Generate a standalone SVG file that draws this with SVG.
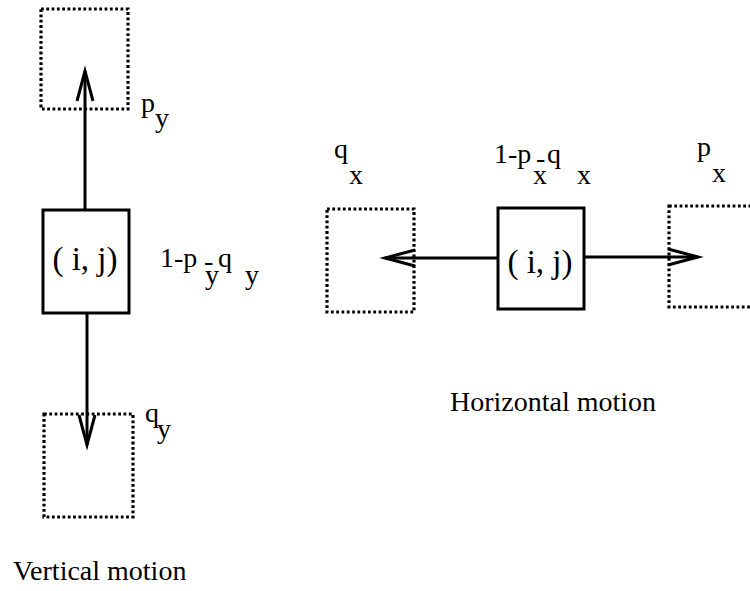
<svg xmlns="http://www.w3.org/2000/svg" width="750" height="591" viewBox="0 0 750 591">
<style>
.cell{fill:none;stroke:#000;stroke-width:3}
.ghost{fill:none;stroke:#000;stroke-width:3.2;stroke-dasharray:2.8 2.5}
.conn{stroke:#000;stroke-width:3;fill:none}
text{font-family:"Liberation Serif","Times New Roman",serif;fill:#000}
.ij{font-size:33px}
.lbl{font-size:28px}
.cap{font-size:28px}
</style>
<defs>
<marker id="arr" markerUnits="userSpaceOnUse" markerWidth="40" markerHeight="24" refX="0" refY="0" viewBox="-34 -12 40 24" orient="auto">
<path d="M-30,-8 L0,0 L-30,8" fill="none" stroke="#000" stroke-width="3" stroke-linejoin="miter"/>
</marker>
</defs>
<rect width="750" height="591" fill="#fff"/>
<g id="connectors">
<line class="conn" x1="85" y1="210" x2="85" y2="71" marker-end="url(#arr)"/>
<line class="conn" x1="87" y1="313" x2="87" y2="445" marker-end="url(#arr)"/>
<line class="conn" x1="498" y1="258" x2="385" y2="258" marker-end="url(#arr)"/>
<line class="conn" x1="584" y1="257" x2="698" y2="257" marker-end="url(#arr)"/>
</g>
<g id="v-up">
<rect class="ghost" x="41" y="9" width="87" height="100"/>
<text class="lbl" x="141" y="112">p<tspan x="155" y="127">y</tspan></text>
</g>
<g id="v-center">
<rect class="cell" x="43" y="210" width="86" height="103"/>
<text class="ij" x="85" y="270" text-anchor="middle">( i, j)</text>
<text class="lbl" x="160" y="267">1-p<tspan x="204" y="270">-</tspan><tspan x="205" y="284">y</tspan><tspan x="218" y="267">q</tspan><tspan x="245" y="284">y</tspan></text>
</g>
<g id="v-down">
<rect class="ghost" x="44" y="414" width="89" height="103"/>
<text class="lbl" x="145" y="422">q<tspan x="157" y="438">y</tspan></text>
</g>
<g id="h-left">
<rect class="ghost" x="327" y="209" width="87" height="103"/>
<text class="lbl" x="334" y="158">q<tspan x="349" y="184">x</tspan></text>
</g>
<g id="h-center">
<rect class="cell" x="498" y="208" width="86" height="101"/>
<text class="ij" x="540" y="273" text-anchor="middle">( i, j)</text>
<text class="lbl" x="494" y="163">1-p<tspan x="536" y="167">-</tspan><tspan x="533" y="184">x</tspan><tspan x="547" y="163">q</tspan><tspan x="577" y="184">x</tspan></text>
</g>
<g id="h-right">
<rect class="ghost" x="669" y="206" width="88" height="101"/>
<text class="lbl" x="697" y="156">p<tspan x="712" y="182">x</tspan></text>
</g>
<text class="cap" x="13" y="580">Vertical motion</text>
<text class="cap" x="450" y="411">Horizontal motion</text>
</svg>
